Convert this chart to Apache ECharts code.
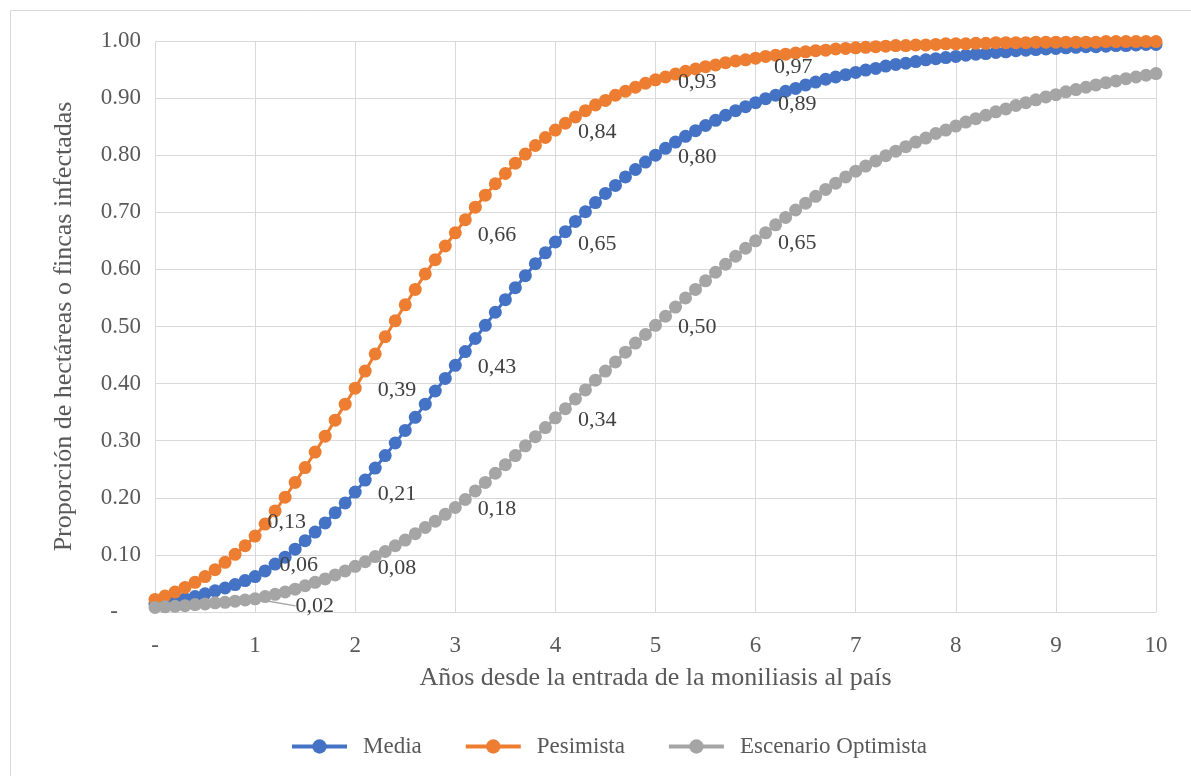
<!DOCTYPE html>
<html>
<head>
<meta charset="utf-8">
<script src="https://cdn.jsdelivr.net/npm/echarts@6/dist/echarts.min.js"></script>
<style>
  html, body { margin: 0; padding: 0; background: #ffffff; }
  #chart { width: 1191px; height: 776px; }
</style>
</head>
<body>
<div id="chart"></div>
<script>
// Years since entry (x values, one point every 0.1 year)
const years = [
  0, 0.1, 0.2, 0.3, 0.4, 0.5, 0.6, 0.7, 0.8, 0.9,
  1, 1.1, 1.2, 1.3, 1.4, 1.5, 1.6, 1.7, 1.8, 1.9,
  2, 2.1, 2.2, 2.3, 2.4, 2.5, 2.6, 2.7, 2.8, 2.9,
  3, 3.1, 3.2, 3.3, 3.4, 3.5, 3.6, 3.7, 3.8, 3.9,
  4, 4.1, 4.2, 4.3, 4.4, 4.5, 4.6, 4.7, 4.8, 4.9,
  5, 5.1, 5.2, 5.3, 5.4, 5.5, 5.6, 5.7, 5.8, 5.9,
  6, 6.1, 6.2, 6.3, 6.4, 6.5, 6.6, 6.7, 6.8, 6.9,
  7, 7.1, 7.2, 7.3, 7.4, 7.5, 7.6, 7.7, 7.8, 7.9,
  8, 8.1, 8.2, 8.3, 8.4, 8.5, 8.6, 8.7, 8.8, 8.9,
  9, 9.1, 9.2, 9.3, 9.4, 9.5, 9.6, 9.7, 9.8, 9.9,
  10
];

const media = [
  0.014, 0.017, 0.020, 0.023, 0.027, 0.032, 0.037, 0.042, 0.048, 0.055,
  0.062, 0.072, 0.084, 0.096, 0.110, 0.125, 0.140, 0.156, 0.174, 0.191,
  0.210, 0.231, 0.252, 0.274, 0.296, 0.318, 0.341, 0.364, 0.387, 0.409,
  0.432, 0.456, 0.479, 0.502, 0.525, 0.547, 0.568, 0.589, 0.610, 0.629,
  0.648, 0.666, 0.684, 0.701, 0.717, 0.733, 0.747, 0.762, 0.775, 0.788,
  0.800, 0.812, 0.823, 0.833, 0.843, 0.852, 0.861, 0.870, 0.878, 0.885,
  0.892, 0.899, 0.905, 0.912, 0.917, 0.923, 0.928, 0.933, 0.937, 0.941,
  0.945, 0.949, 0.952, 0.956, 0.959, 0.961, 0.964, 0.967, 0.969, 0.971,
  0.973, 0.975, 0.977, 0.978, 0.980, 0.981, 0.983, 0.984, 0.985, 0.986,
  0.987, 0.988, 0.989, 0.990, 0.990, 0.991, 0.992, 0.992, 0.993, 0.994,
  0.994
];

const pesimista = [
  0.022, 0.028, 0.035, 0.043, 0.052, 0.062, 0.074, 0.087, 0.101, 0.116,
  0.133, 0.154, 0.177, 0.201, 0.227, 0.253, 0.280, 0.308, 0.336, 0.364,
  0.392, 0.422, 0.452, 0.482, 0.510, 0.538, 0.565, 0.592, 0.617, 0.641,
  0.664, 0.687, 0.709, 0.730, 0.750, 0.768, 0.786, 0.802, 0.817, 0.831,
  0.844, 0.856, 0.867, 0.878, 0.888, 0.896, 0.905, 0.912, 0.919, 0.926,
  0.932, 0.937, 0.942, 0.947, 0.951, 0.955, 0.958, 0.962, 0.965, 0.967,
  0.970, 0.973, 0.975, 0.977, 0.979, 0.981, 0.983, 0.984, 0.986, 0.987,
  0.988, 0.989, 0.990, 0.991, 0.992, 0.992, 0.993, 0.993, 0.994, 0.995,
  0.995, 0.995, 0.996, 0.996, 0.997, 0.997, 0.997, 0.997, 0.998, 0.998,
  0.998, 0.998, 0.998, 0.998, 0.998, 0.999, 0.999, 0.999, 0.999, 0.999,
  0.999
];

const optimista = [
  0.008, 0.009, 0.010, 0.011, 0.013, 0.014, 0.016, 0.017, 0.019, 0.021,
  0.023, 0.027, 0.031, 0.035, 0.040, 0.046, 0.052, 0.058, 0.065, 0.072,
  0.080, 0.088, 0.097, 0.106, 0.116, 0.126, 0.137, 0.148, 0.159, 0.171,
  0.183, 0.197, 0.212, 0.227, 0.243, 0.258, 0.274, 0.291, 0.307, 0.323,
  0.340, 0.356, 0.373, 0.389, 0.406, 0.422, 0.438, 0.455, 0.471, 0.486,
  0.502, 0.518, 0.534, 0.550, 0.565, 0.580, 0.595, 0.609, 0.623, 0.637,
  0.650, 0.664, 0.678, 0.691, 0.704, 0.716, 0.728, 0.740, 0.751, 0.762,
  0.772, 0.781, 0.790, 0.799, 0.807, 0.815, 0.823, 0.830, 0.838, 0.844,
  0.851, 0.858, 0.864, 0.870, 0.876, 0.881, 0.887, 0.892, 0.897, 0.902,
  0.906, 0.911, 0.915, 0.919, 0.923, 0.927, 0.930, 0.934, 0.937, 0.940,
  0.943
];

const seriesNames = ['Media', 'Pesimista', 'Escenario Optimista'];
const labelYears = [1, 2, 3, 4, 5, 6];
const xTicks = [0, 1, 2, 3, 4, 5, 6, 7, 8, 9, 10];

const colors = ['#4472C4', '#ED7D31', '#A5A5A5'];
const SERIF = '"Liberation Serif", "Times New Roman", serif';

// label placement tweaks (per series, per year)
const labelAdjust = [
  { 1: { dx: 2, dy: -11 } },
  { 1: { dx: -10, dy: -14 }, 6: { dx: -4, dy: 9 } },
  { 1: { dx: 18, dy: 7 } }
];
const leaderYears = [[1], [], [1]];

function buildData(values, sIdx) {
  return years.map(function (x, i) {
    const isLabel = labelYears.some(function (y) { return Math.abs(y - x) < 1e-9; });
    if (!isLabel) return [x, values[i]];
    const item = { value: [x, values[i]], label: { show: true } };
    if (leaderYears[sIdx].indexOf(Math.round(x)) >= 0) {
      item.labelLine = { show: true, lineStyle: { color: '#a6a6a6', width: 1.5 } };
    }
    return item;
  });
}

function makeSeries(name, values, sIdx) {
  return {
    name: name,
    type: 'line',
    data: buildData(values, sIdx),
    symbol: 'circle',
    symbolSize: 13,
    showSymbol: true,
    showAllSymbol: true,
    color: colors[sIdx],
    lineStyle: { width: 3, color: colors[sIdx] },
    itemStyle: { color: colors[sIdx] },
    label: {
      show: false,
      position: 'right',
      distance: 16,
      fontFamily: SERIF,
      fontSize: 22,
      color: '#404040',
      formatter: function (p) { return p.value[1].toFixed(2).replace('.', ','); }
    },
    labelLine: { show: false },
    labelLayout: function (params) {
      const yr = Math.round(years[params.dataIndex]);
      const a = labelAdjust[sIdx][yr];
      return a ? { dx: a.dx, dy: a.dy } : { dx: 0, dy: 2 };
    },
    emphasis: { disabled: true },
    z: 2 + sIdx
  };
}

const chart = echarts.init(document.getElementById('chart'), null, { renderer: 'canvas' });

chart.setOption({
  animation: false,
  backgroundColor: '#ffffff',
  textStyle: { fontFamily: SERIF },
  graphic: [{
    type: 'rect',
    silent: true,
    z: -10,
    shape: { x: 10.5, y: 10.5, width: 1200, height: 800 },
    style: { fill: 'none', stroke: '#d9d9d9', lineWidth: 1 }
  }],
  grid: { left: 155, right: 35, top: 41, bottom: 164, containLabel: false },
  legend: {
    data: seriesNames,
    left: 285,
    top: 730,
    itemWidth: 55,
    itemHeight: 18,
    itemGap: 42,
    lineStyle: { width: 4 },
    textStyle: { fontFamily: SERIF, fontSize: 23, color: '#595959', padding: [0, 0, 0, 11] }
  },
  xAxis: {
    type: 'value',
    min: 0,
    max: 10,
    interval: 1,
    name: 'Años desde la entrada de la moniliasis al país',
    nameLocation: 'middle',
    nameGap: 53,
    nameTextStyle: { fontFamily: SERIF, fontSize: 26, color: '#595959' },
    axisLine: { show: true, lineStyle: { color: '#d9d9d9', width: 1 } },
    axisTick: { show: false },
    axisLabel: {
      margin: 22,
      fontFamily: SERIF,
      fontSize: 23,
      color: '#595959',
      formatter: function (v) {
        const t = xTicks.find(function (k) { return Math.abs(k - v) < 1e-9; });
        return t === 0 ? '-' : String(t);
      }
    },
    splitLine: { show: true, lineStyle: { color: '#d9d9d9', width: 1 } }
  },
  yAxis: {
    type: 'value',
    min: 0,
    max: 1,
    interval: 0.1,
    name: 'Proporción de hectáreas o fincas infectadas',
    nameLocation: 'middle',
    nameGap: 78,
    nameTextStyle: { fontFamily: SERIF, fontSize: 26, color: '#595959' },
    axisLine: { show: false },
    axisTick: { show: false },
    axisLabel: {
      margin: 14,
      fontFamily: SERIF,
      fontSize: 23,
      color: '#595959',
      formatter: function (v) { return Math.abs(v) < 1e-9 ? '-    ' : v.toFixed(2); }
    },
    splitLine: { show: true, lineStyle: { color: '#d9d9d9', width: 1 } }
  },
  series: [
    makeSeries(seriesNames[0], media, 0),
    makeSeries(seriesNames[1], pesimista, 1),
    makeSeries(seriesNames[2], optimista, 2)
  ]
});
</script>
</body>
</html>
